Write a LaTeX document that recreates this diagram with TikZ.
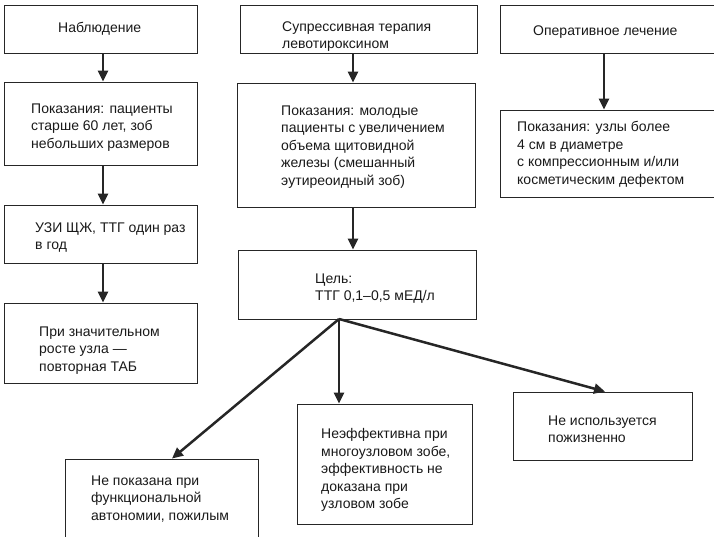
\documentclass[tikz,border=0pt]{standalone}
\usepackage{fontspec}
\setmainfont{Liberation Sans}
\usetikzlibrary{arrows.meta}

\tikzset{
  box/.style 2 args={draw=black!85, line width=0.9pt, minimum width=#1, minimum height=#2, inner sep=0pt},
  txt/.style={anchor=north west, align=left, inner sep=0pt, font=\fontsize{14}{17.5}\selectfont, text=black!90},
  arr/.style={-{Triangle[length=11pt,width=10pt]}, line width=2.5pt, draw=black!85}
}

\begin{document}
\begin{tikzpicture}[x=1pt, y=-1pt]
            \clip (0,0) rectangle (714,537);

            % observation
            \node[box={193}{48}] at (100.5, 29)      (obs)     {};
            \node[box={193}{83}] at (100.5, 123.5)   (obs_ind) {};
            \node[box={193}{58}] at (100.5, 234)     (obs_us)  {};
            \node[box={193}{80}] at (100.5, 343)     (obs_tab) {};

            \node[txt] at (58, 22.5)   (obs_t)     {Наблюдение};
            \node[txt] at (31, 103.5)  (obs_ind_t) {Показания: пациенты\\старше 60 лет, зоб\\небольших размеров};
            \node[txt] at (35, 222.5)  (obs_us_t)  {УЗИ ЩЖ, ТТГ один раз\\в год};
            \node[txt] at (39, 326.5)  (obs_tab_t) {При значительном\\росте узла ---\\повторная ТАБ};

            % suppressive therapy
            \node[box={237}{48}]  at (358.5, 29)    (sup)       {};
            \node[box={238}{124}] at (356, 145)     (sup_ind)   {};
            \node[box={238}{69}]  at (357, 284.5)   (sup_goal)  {};
            \node[box={193}{101}] at (161.5, 509.5) (sup_no)    {};
            \node[box={175}{120}] at (384.5, 464)   (sup_multi) {};
            \node[box={179}{68}]  at (602.5, 426)   (sup_life)  {};

            \node[txt] at (282, 21.5)  (sup_t)       {Супрессивная терапия\\левотироксином};
            \node[txt] at (281, 105.5) (sup_ind_t)   {Показания: молодые\\пациенты с увеличением\\объема щитовидной\\железы (смешанный\\эутиреоидный зоб)};
            \node[txt] at (315, 273.5) (sup_goal_t)  {Цель:\\ТТГ 0,1--0,5 мЕД/л};
            \node[txt] at (91, 475.5)  (sup_no_t)    {Не показана при\\функциональной\\автономии, пожилым};
            \node[txt] at (321, 428.5) (sup_multi_t) {Неэффективна при\\многоузловом зобе,\\эффективность не\\доказана при\\узловом зобе};
            \node[txt] at (548, 415.5) (sup_life_t)  {Не используется\\пожизненно};

            % surgery
            \node[box={220}{48}] at (610, 29)    (op)     {};
            \node[box={220}{87}] at (610, 153.5) (op_ind) {};

            \node[txt] at (533, 25.5)  (op_t)     {Оперативное лечение};
            \node[txt] at (517, 121.5) (op_ind_t) {Показания: узлы более\\4 см в диаметре\\с компрессионным  и/или\\косметическим дефектом};

            \coordinate (col1) at (103, 0);
            \coordinate (col2) at (353, 0);
            \coordinate (col3) at (604, 0);
            \coordinate (fork) at (339, 319);

            \draw[arr] (obs.south -| col1) -- (obs_ind.north -| col1);
            \draw[arr] (obs_ind.south -| col1) -- (obs_us.north -| col1);
            \draw[arr] (obs_us.south -| col1) -- (obs_tab.north -| col1);

            \draw[arr] (sup.south -| col2) -- (sup_ind.north -| col2);
            \draw[arr] (sup_ind.south -| col2) -- (sup_goal.north -| col2);

            \draw[arr] (fork) -- ([xshift=10.5]sup_no.north);
            \draw[arr] (fork) -- (sup_multi.north -| fork);
            \draw[arr] (fork) -- ([xshift=2.5]sup_life.north);

            \draw[arr] (op.south -| col3) -- (op_ind.north -| col3);
\end{tikzpicture}
\end{document}
